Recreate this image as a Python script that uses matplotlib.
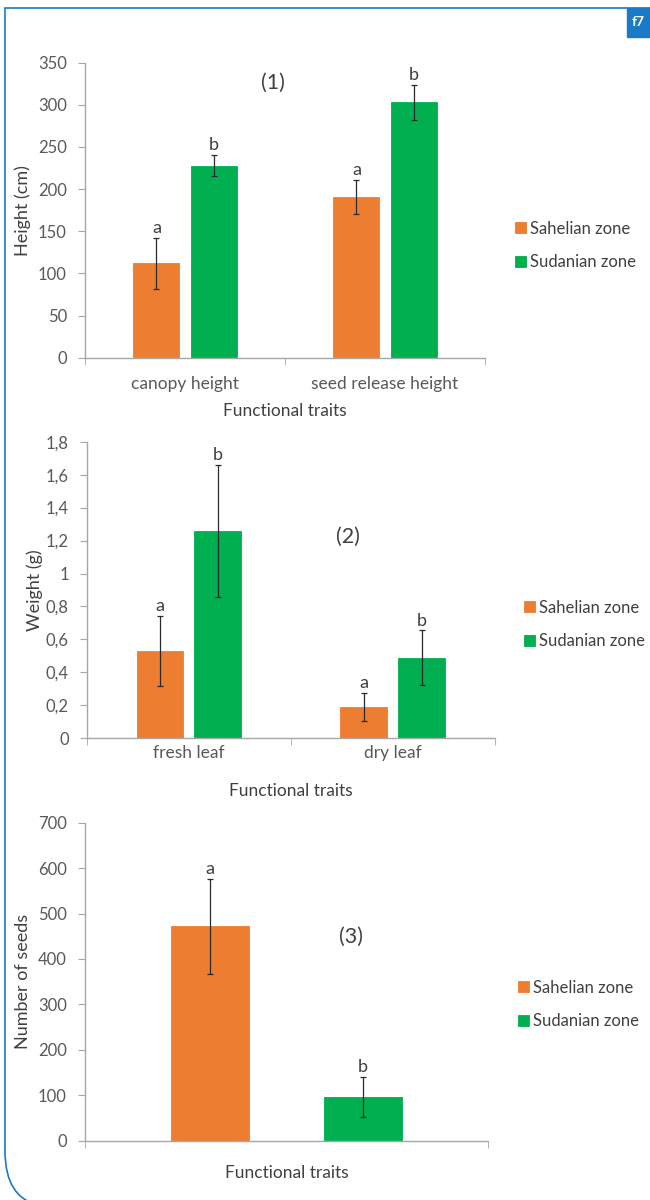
import numpy as np
import matplotlib.pyplot as plt
from matplotlib.path import Path
from matplotlib.patches import PathPatch, Rectangle

plt.rcParams['font.family'] = ['Lato', 'DejaVu Sans']

zones = ['Sahelian zone', 'Sudanian zone']
zone_colors = ['#ED7D31', '#00B050']

# panel (1) height
p1_cats = ['canopy height', 'seed release height']
p1_sahel = [112, 191]
p1_sahel_err = [30, 20]
p1_sudan = [228, 303]
p1_sudan_err = [13, 21]
p1_letters = [['a', 'a'], ['b', 'b']]
p1_ticks = [0, 50, 100, 150, 200, 250, 300, 350]
p1_ticklabels = ['0', '50', '100', '150', '200', '250', '300', '350']

# panel (2) leaf weight
p2_cats = ['fresh leaf', 'dry leaf']
p2_sahel = [0.53, 0.19]
p2_sahel_err = [0.215, 0.085]
p2_sudan = [1.26, 0.49]
p2_sudan_err = [0.40, 0.165]
p2_letters = [['a', 'a'], ['b', 'b']]
p2_ticks = [0, 0.2, 0.4, 0.6, 0.8, 1.0, 1.2, 1.4, 1.6, 1.8]
p2_ticklabels = ['0', '0,2', '0,4', '0,6', '0,8', '1', '1,2', '1,4', '1,6', '1,8']

# panel (3) seeds
p3_cats = ['']
p3_sahel = [472]
p3_sahel_err = [105]
p3_sudan = [96]
p3_sudan_err = [44]
p3_letters = [['a'], ['b']]
p3_ticks = [0, 100, 200, 300, 400, 500, 600, 700]
p3_ticklabels = ['0', '100', '200', '300', '400', '500', '600', '700']

W, H = 650, 1200
fig = plt.figure(figsize=(6.5, 12), dpi=100)

txt_color = '#404040'
tick_color = '#595959'
spine_color = '#a6a6a6'


def px_axes(x0, y_top, x1, y_bot):
    return fig.add_axes([x0 / W, 1 - y_bot / H, (x1 - x0) / W, (y_bot - y_top) / H])


def draw_panel(ax, cats, vals, errs, letters, offset, width, ticks, ticklabels,
               ylabel, tag, tag_xy, show_cats, tick_pad, xlab_pad, legend_xy):
    n = len(cats)
    x = np.arange(n)
    ymax = ticks[-1]
    for k in range(2):
        xs = x + (offset if k == 1 else -offset)
        ax.bar(xs, vals[k], width, color=zone_colors[k], edgecolor=zone_colors[k],
               linewidth=0.6, label=zones[k], zorder=2)
        ax.errorbar(xs, vals[k], yerr=errs[k], fmt='none', ecolor='#2a2a2a',
                    elinewidth=0.9, capsize=2.5, capthick=0.9, zorder=3)
        for xi, v, e, l in zip(xs, vals[k], errs[k], letters[k]):
            ax.text(xi, v + e + 0.006 * ymax, l, ha='center', va='bottom',
                    fontsize=13, color=txt_color)
    ax.set_xlim(-0.5, n - 0.5)
    ax.set_ylim(0, ymax)
    ax.set_yticks(ticks)
    ax.set_yticklabels(ticklabels, fontsize=12, color=tick_color)
    ax.set_xticks(np.arange(n + 1) - 0.5, minor=True)
    ax.set_xticks(x)
    if show_cats:
        ax.set_xticklabels(cats, fontsize=12.5, color=tick_color)
    else:
        ax.set_xticklabels([])
    ax.tick_params(axis='x', which='major', length=0, pad=tick_pad)
    ax.tick_params(axis='x', which='minor', length=5, color=spine_color, direction='out')
    ax.tick_params(axis='y', length=5, color=spine_color, pad=8)
    for s in ['top', 'right']:
        ax.spines[s].set_visible(False)
    for s in ['left', 'bottom']:
        ax.spines[s].set_color(spine_color)
        ax.spines[s].set_linewidth(1.0)
    ax.set_ylabel(ylabel, fontsize=13, color=txt_color)
    ax.set_xlabel('Functional traits', fontsize=12.5, color=txt_color, labelpad=xlab_pad)
    ax.text(tag_xy[0], tag_xy[1], tag, transform=ax.transAxes, ha='center',
            va='center', fontsize=15.5, color=txt_color)
    ax.legend(loc='upper left', bbox_to_anchor=(legend_xy[0] / W, 1 - legend_xy[1] / H),
              bbox_transform=fig.transFigure, frameon=False, fontsize=12,
              handlelength=0.65, handleheight=0.65, handletextpad=0.25,
              labelspacing=1.05, borderaxespad=0, labelcolor=txt_color)


ax1 = px_axes(85, 62.7, 485, 357.7)
draw_panel(ax1, p1_cats, [p1_sahel, p1_sudan], [p1_sahel_err, p1_sudan_err],
           p1_letters, 0.143, 0.23, p1_ticks, p1_ticklabels, 'Height (cm)',
           '(1)', (0.47, 0.93), True, 13, 8, (508, 214))
ax1.yaxis.set_label_coords(-54 / 400, 0.5)

ax2 = px_axes(87, 441.7, 494.5, 738.3)
draw_panel(ax2, p2_cats, [p2_sahel, p2_sudan], [p2_sahel_err, p2_sudan_err],
           p2_letters, 0.142, 0.23, p2_ticks, p2_ticklabels, 'Weight (g)',
           '(2)', (0.64, 0.68), True, 5, 16, (517, 593))
ax2.yaxis.set_label_coords(-44 / 407.5, 0.5)

ax3 = px_axes(85, 822.7, 488, 1140.7)
draw_panel(ax3, p3_cats, [p3_sahel, p3_sudan], [p3_sahel_err, p3_sudan_err],
           p3_letters, 0.19, 0.194, p3_ticks, p3_ticklabels, 'Number of seeds',
           '(3)', (0.66, 0.64), False, 4, 9, (511, 973))
ax3.yaxis.set_label_coords(-54 / 403, 0.5)

# card frame and badge
frame = fig.add_axes([0, 0, 1, 1], zorder=-1)
frame.set_xlim(0, W)
frame.set_ylim(H, 0)
frame.axis('off')
verts = [(W, 8), (5, 8), (5, 1150), (5, 1185), (18, 1198), (34, 1204)]
codes = [Path.MOVETO, Path.LINETO, Path.LINETO, Path.CURVE4, Path.CURVE4, Path.CURVE4]
frame.add_patch(PathPatch(Path(verts, codes), fill=False, edgecolor='#1a7ac8', linewidth=1.2))
frame.add_patch(Rectangle((627, 8), 23, 29, color='#1a7ac8'))
frame.text(638.5, 22.5, 'f7', color='white', fontsize=10, fontweight='bold',
           ha='center', va='center')

fig.savefig('out.png', dpi=100)
